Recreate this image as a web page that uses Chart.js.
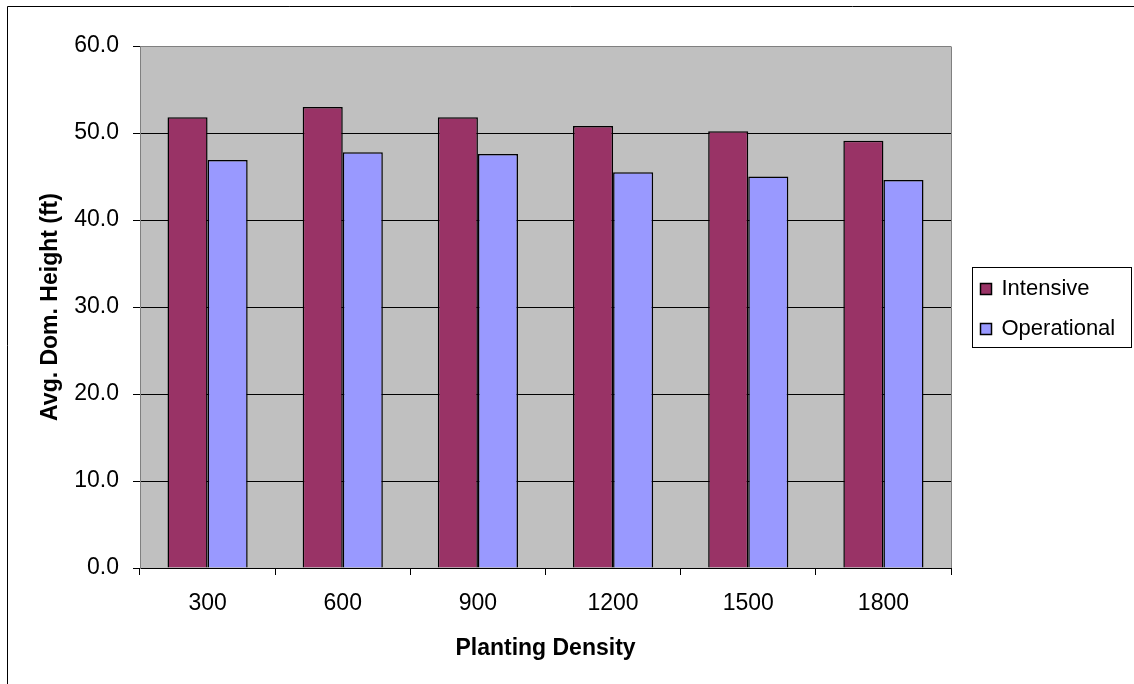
<!DOCTYPE html>
<html lang="en">
<head>
    <meta charset="UTF-8">
    <title>Avg. Dom. Height by Planting Density</title>
    <script src="https://cdn.jsdelivr.net/npm/chart.js"></script>
    <style>
        html, body {
            margin: 0;
            padding: 0;
            background: #ffffff;
            overflow: hidden;
        }
        .chart-box {
            position: absolute;
            left: 0;
            top: 0;
            width: 1134px;
            height: 684px;
        }
    </style>
</head>
<body>
    <div class="chart-box">
        <canvas id="heightChart" width="1134" height="684"></canvas>
    </div>

    <script>
        // Chart data
        const densities = ['300', '600', '900', '1200', '1500', '1800'];
        const intensive = [51.8, 53.0, 51.8, 50.8, 50.2, 49.1];
        const operational = [46.9, 47.8, 47.6, 45.5, 45.0, 44.6];
        const seriesNames = ['Intensive', 'Operational'];

        const FONT = "'Liberation Sans', Arial, sans-serif";

        // grey plot area, outer frame and plot border
        const backdrop = {
            id: 'backdrop',
            beforeDraw(chart) {
                const ctx = chart.ctx;
                const a = chart.chartArea;
                ctx.save();
                ctx.fillStyle = '#ffffff';
                ctx.fillRect(0, 0, chart.width, chart.height);
                ctx.fillStyle = '#c0c0c0';
                ctx.fillRect(a.left, a.top, a.right - a.left, a.bottom - a.top);
                ctx.strokeStyle = '#000000';
                ctx.lineWidth = 1;
                ctx.beginPath();
                ctx.moveTo(7.5, chart.height);
                ctx.lineTo(7.5, 6.5);
                ctx.lineTo(chart.width, 6.5);
                ctx.stroke();
                ctx.restore();
            },
            afterDraw(chart) {
                const ctx = chart.ctx;
                const a = chart.chartArea;
                ctx.save();
                ctx.strokeStyle = '#808080';
                ctx.lineWidth = 1;
                ctx.beginPath();
                ctx.moveTo(Math.round(a.right) + 0.5, a.bottom);
                ctx.lineTo(Math.round(a.right) + 0.5, Math.round(a.top) + 0.5);
                ctx.stroke();
                ctx.restore();
            }
        };

        // boxed legend to the right of the plot
        const boxLegend = {
            id: 'boxLegend',
            afterDraw(chart) {
                const ctx = chart.ctx;
                const a = chart.chartArea;
                const x = Math.round(a.right) + 21.5;
                const w = 159;
                const h = 80;
                const y = Math.round((a.top + a.bottom) / 2 - h / 2) + 0.5;
                ctx.save();
                ctx.fillStyle = '#ffffff';
                ctx.fillRect(x, y, w, h);
                ctx.strokeStyle = '#000000';
                ctx.lineWidth = 1;
                ctx.strokeRect(x, y, w, h);
                ctx.font = '22px ' + FONT;
                ctx.textBaseline = 'middle';
                chart.data.datasets.forEach((ds, i) => {
                    const cy = y + 21.5 + i * 40;
                    ctx.fillStyle = ds.backgroundColor;
                    ctx.fillRect(x + 8, cy - 5.5, 11, 11);
                    ctx.strokeStyle = '#000000';
                    ctx.lineWidth = 1.5;
                    ctx.strokeRect(x + 8, cy - 5.5, 11, 11);
                    ctx.fillStyle = '#000000';
                    ctx.fillText(ds.label, x + 29, cy);
                });
                ctx.restore();
            }
        };

        new Chart(document.getElementById('heightChart'), {
            type: 'bar',
            data: {
                labels: densities,
                datasets: [
                    {
                        label: seriesNames[0],
                        data: intensive,
                        backgroundColor: '#993366',
                        borderColor: '#000000',
                        borderWidth: 1.5
                    },
                    {
                        label: seriesNames[1],
                        data: operational,
                        backgroundColor: '#9999ff',
                        borderColor: '#000000',
                        borderWidth: 1.5
                    }
                ]
            },
            options: {
                responsive: false,
                animation: false,
                layout: {
                    padding: { top: 46, right: 183, bottom: 0, left: 0 }
                },
                datasets: {
                    bar: {
                        categoryPercentage: 0.593,
                        barPercentage: 1.0
                    }
                },
                plugins: {
                    legend: { display: false },
                    tooltip: { enabled: false }
                },
                scales: {
                    x: {
                        offset: true,
                        grid: {
                            offset: true,
                            drawOnChartArea: false,
                            drawTicks: true,
                            tickLength: 7,
                            color: '#000000'
                        },
                        border: { color: '#000000' },
                        ticks: {
                            color: '#000000',
                            padding: 15,
                            maxRotation: 0,
                            font: { family: FONT, size: 23 }
                        },
                        title: {
                            display: true,
                            text: 'Planting Density',
                            color: '#000000',
                            padding: { top: 0, bottom: 22 },
                            font: { family: FONT, size: 23, weight: 'bold' }
                        },
                        afterFit(scale) {
                            scale.height = 116;
                        }
                    },
                    y: {
                        min: 0,
                        max: 60,
                        grid: {
                            color: ctx => (ctx.tick && ctx.tick.value === 60) ? '#808080' : '#000000',
                            tickColor: '#000000',
                            tickLength: 7
                        },
                        border: { color: '#808080' },
                        ticks: {
                            stepSize: 10,
                            color: '#000000',
                            padding: 14,
                            font: { family: FONT, size: 23 },
                            callback: v => Number(v).toFixed(1)
                        },
                        title: {
                            display: true,
                            text: 'Avg. Dom. Height (ft)',
                            color: '#000000',
                            padding: { top: 37, bottom: 0 },
                            font: { family: FONT, size: 23, weight: 'bold' }
                        },
                        afterFit(scale) {
                            scale.width = 140;
                        }
                    }
                }
            },
            plugins: [backdrop, boxLegend]
        });
    </script>
</body>
</html>
